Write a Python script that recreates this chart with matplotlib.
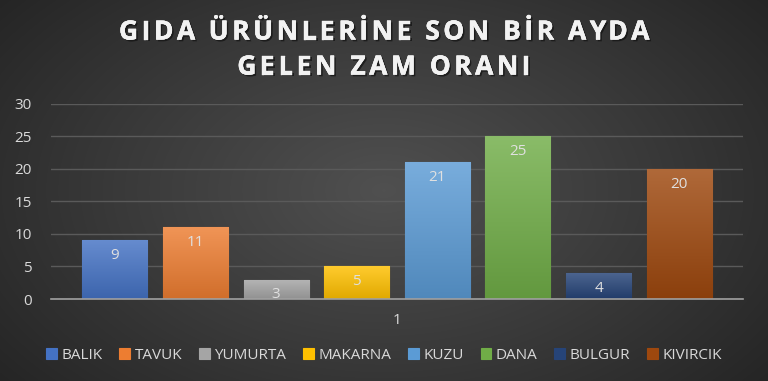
import numpy as np
import matplotlib.pyplot as plt
import matplotlib.patheffects as pe
from matplotlib.colors import LinearSegmentedColormap, to_rgb
from matplotlib.font_manager import FontProperties

# data
categories = ["1"]
series = ["BALIK", "TAVUK", "YUMURTA", "MAKARNA", "KUZU", "DANA", "BULGUR", "KIVIRCIK"]
values = [9, 11, 3, 5, 21, 25, 4, 20]
colors = ["#4472C4", "#ED7D31", "#A5A5A5", "#FFC000", "#5B9BD5", "#70AD47", "#264478", "#9E480E"]
yticks = [0, 5, 10, 15, 20, 25, 30]
title_lines = ["GIDA ÜRÜNLERİNE SON BİR AYDA", "GELEN ZAM ORANI"]

plt.rcParams['font.family'] = ['Open Sans', 'DejaVu Sans']

W, H = 768, 381
fig = plt.figure(figsize=(W / 100, H / 100), dpi=100)

# radial background
bg = fig.add_axes([0, 0, 1, 1], zorder=-10)
yy, xx = np.mgrid[-1:1:381j, -1:1:768j]
r = np.sqrt(xx ** 2 + (yy * 0.8) ** 2)
bg.imshow(r, cmap=LinearSegmentedColormap.from_list("bg", ["#505050", "#3a3a3a", "#232323"]),
          vmin=0, vmax=1.35, aspect="auto", extent=[0, 1, 0, 1])
bg.set_axis_off()

ax = fig.add_axes([0.0664, 0.2152, 0.901, 0.512])
ax.set_facecolor("none")

step = 0.1165
width = 0.094
for i, (name, v, c) in enumerate(zip(series, values, colors)):
    x = (i - 3.5) * step
    b = ax.bar(x, v, width=width, color=c, edgecolor=c, linewidth=0.8, label=name, zorder=3)[0]
    # vertical gradient on the bar
    base = np.array(to_rgb(c))
    top = base + (1 - base) * 0.18
    bot = base * 0.88
    grad = np.linspace(0, 1, 100)[:, None, None]
    img = bot + (top - bot) * grad
    im = ax.imshow(img, extent=[x - width / 2, x + width / 2, 0, v], origin="lower",
                   aspect="auto", zorder=3.5)
    im.set_clip_path(b)
    ax.text(x, v - 1.2, str(v), ha="center", va="top", color="#e0e0e0", fontsize=11, zorder=5)

ax.set_xlim(-0.5, 0.5)
ax.set_ylim(0, 30)
ax.set_xticks([0])
ax.set_xticklabels(categories)
ax.set_yticks(yticks)
ax.tick_params(colors="#d9d9d9", labelsize=11, length=0)
ax.tick_params(axis="y", pad=14)
ax.tick_params(axis="x", pad=10)
ax.grid(axis="y", color="#5a5a5a", linewidth=1, zorder=0)
for s in ["left", "right", "top"]:
    ax.spines[s].set_visible(False)
ax.spines["bottom"].set_color("#a0a0a0")
ax.spines["bottom"].set_linewidth(1.2)
ax.spines["bottom"].set_zorder(6)

# letter-spaced title, placed char by char
renderer = fig.canvas.get_renderer()
prop = FontProperties(family=['Open Sans', 'DejaVu Sans'], weight="bold", size=19)
shadow = [pe.withSimplePatchShadow(offset=(1.3, -1.3), shadow_rgbFace="#111111", alpha=0.7),
          pe.withStroke(linewidth=0.3, foreground="#f2f2f2")]


def text_w(s):
    if not s:
        return 0.0
    w, h, d = renderer.get_text_width_height_descent(s.replace(" ", "\u00a0"), prop, ismath=False)
    return w


first = title_lines[0]
spacing = (530 - text_w(first)) / (len(first) - 1)
for line, yc in zip(title_lines, [H - 32, H - 67]):
    total = text_w(line) + spacing * (len(line) - 1)
    x0 = W / 2 - total / 2
    for k, ch in enumerate(line):
        if ch == " ":
            continue
        xp = x0 + text_w(line[:k]) + spacing * k
        fig.text(xp / W, yc / H, ch, ha="left", va="center", color="#f2f2f2",
                 fontproperties=prop, path_effects=shadow)

leg = fig.legend(loc="center", bbox_to_anchor=(0.5, 0.068), ncol=8, frameon=False,
                 fontsize=11, handlelength=0.7, handleheight=0.7, handletextpad=0.3,
                 columnspacing=1.1, labelcolor="#d9d9d9")

fig.savefig("out.png", dpi=100)
